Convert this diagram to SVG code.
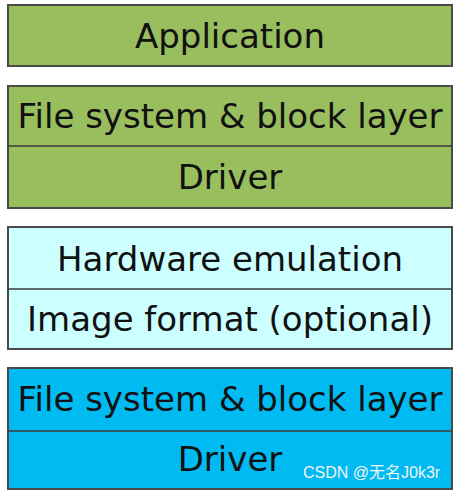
<svg xmlns="http://www.w3.org/2000/svg" width="455" height="492" viewBox="0 0 455 492">
<style>
.box{stroke:#4a4a4a;stroke-width:2}
.div{stroke:#3a3a3a;stroke-width:1.5}
.g{fill:#98be5e}
.c{fill:#ccffff}
.b{fill:#00bbf2}
text{font-family:"DejaVu Sans",sans-serif;font-size:34px;fill:#111;text-anchor:middle}
.wm{font-family:"Liberation Sans","Noto Sans CJK SC",sans-serif;font-size:16px;fill:#f2f2f2;text-anchor:start}
</style>
<rect width="455" height="492" fill="#ffffff"/>
<g id="application">
<rect class="box g" x="8" y="5" width="444" height="61"/>
<text x="230" y="48">Application</text>
</g>
<g id="guest-stack">
<rect class="box g" x="8" y="86" width="444" height="122"/>
<line class="div" x1="8" y1="146" x2="452" y2="146"/>
<text x="230" y="128">File system &amp; block layer</text>
<text x="230" y="189">Driver</text>
</g>
<g id="emulation">
<rect class="box c" x="8" y="227" width="444" height="122"/>
<line class="div" x1="8" y1="289" x2="452" y2="289"/>
<text x="230" y="271">Hardware emulation</text>
<text x="230" y="331">Image format (optional)</text>
</g>
<g id="host-stack">
<rect class="box b" x="8" y="368" width="444" height="121"/>
<line class="div" x1="8" y1="431" x2="452" y2="431"/>
<text x="230" y="411">File system &amp; block layer</text>
<text x="230" y="471">Driver</text>
</g>
<g id="connectors"/>
<text class="wm" x="303" y="478">CSDN @无名J0k3r</text>
</svg>
